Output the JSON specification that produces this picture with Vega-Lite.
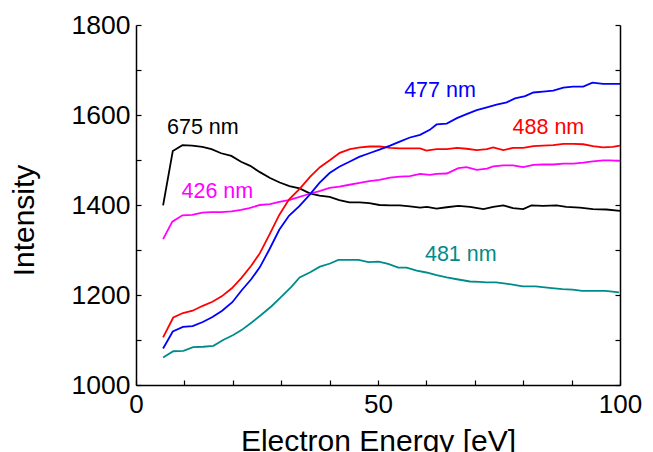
{
  "$schema": "https://vega.github.io/schema/vega-lite/v6.json",
  "width": 484,
  "height": 360,
  "autosize": "none",
  "padding": {"left": 136, "top": 25, "right": 33, "bottom": 67},
  "background": "white",
  "config": {
    "view": {"stroke": null},
    "font": "Liberation Sans",
    "axis": {"grid": false, "domainColor": "black", "tickColor": "black", "domainWidth": 1.5, "tickWidth": 1.2, "labelColor": "black", "titleColor": "black", "labelFont": "Liberation Sans", "titleFont": "Liberation Sans", "titleFontWeight": "normal"}
  },
  "datasets": {
    "curves": [
      {"x": 5.6, "v": 1399, "s": "675 nm"}, {"x": 7.6, "v": 1520, "s": "675 nm"}, {"x": 9.6, "v": 1533, "s": "675 nm"}, {"x": 11.6, "v": 1532, "s": "675 nm"}, {"x": 13.7, "v": 1529, "s": "675 nm"}, {"x": 15.6, "v": 1524, "s": "675 nm"}, {"x": 17.6, "v": 1515, "s": "675 nm"}, {"x": 19.7, "v": 1509, "s": "675 nm"}, {"x": 21.7, "v": 1496, "s": "675 nm"}, {"x": 23.6, "v": 1487, "s": "675 nm"}, {"x": 25.6, "v": 1473, "s": "675 nm"}, {"x": 27.7, "v": 1460, "s": "675 nm"}, {"x": 29.7, "v": 1450, "s": "675 nm"}, {"x": 31.7, "v": 1442, "s": "675 nm"}, {"x": 33.8, "v": 1437, "s": "675 nm"}, {"x": 35.9, "v": 1426, "s": "675 nm"}, {"x": 37.9, "v": 1421, "s": "675 nm"}, {"x": 40.0, "v": 1418, "s": "675 nm"}, {"x": 42.0, "v": 1411, "s": "675 nm"}, {"x": 44.1, "v": 1406, "s": "675 nm"}, {"x": 46.2, "v": 1406, "s": "675 nm"}, {"x": 48.2, "v": 1404, "s": "675 nm"}, {"x": 50.3, "v": 1400, "s": "675 nm"}, {"x": 52.5, "v": 1399, "s": "675 nm"}, {"x": 54.5, "v": 1399, "s": "675 nm"}, {"x": 56.6, "v": 1397, "s": "675 nm"}, {"x": 58.7, "v": 1394, "s": "675 nm"}, {"x": 60.1, "v": 1396, "s": "675 nm"}, {"x": 62.1, "v": 1392, "s": "675 nm"}, {"x": 64.2, "v": 1395, "s": "675 nm"}, {"x": 66.6, "v": 1398, "s": "675 nm"}, {"x": 69.0, "v": 1396, "s": "675 nm"}, {"x": 71.8, "v": 1391, "s": "675 nm"}, {"x": 73.8, "v": 1396, "s": "675 nm"}, {"x": 75.9, "v": 1399, "s": "675 nm"}, {"x": 77.9, "v": 1393, "s": "675 nm"}, {"x": 80.0, "v": 1391, "s": "675 nm"}, {"x": 81.7, "v": 1399, "s": "675 nm"}, {"x": 84.1, "v": 1398, "s": "675 nm"}, {"x": 86.9, "v": 1399, "s": "675 nm"}, {"x": 88.9, "v": 1396, "s": "675 nm"}, {"x": 91.7, "v": 1394, "s": "675 nm"}, {"x": 94.4, "v": 1391, "s": "675 nm"}, {"x": 97.2, "v": 1390, "s": "675 nm"}, {"x": 100.0, "v": 1387, "s": "675 nm"},

      {"x": 5.6, "v": 1324, "s": "426 nm"}, {"x": 7.5, "v": 1363, "s": "426 nm"}, {"x": 9.6, "v": 1377, "s": "426 nm"}, {"x": 11.6, "v": 1378, "s": "426 nm"}, {"x": 13.7, "v": 1383, "s": "426 nm"}, {"x": 15.5, "v": 1384, "s": "426 nm"}, {"x": 17.6, "v": 1384, "s": "426 nm"}, {"x": 19.7, "v": 1386, "s": "426 nm"}, {"x": 21.7, "v": 1389, "s": "426 nm"}, {"x": 23.4, "v": 1393, "s": "426 nm"}, {"x": 25.6, "v": 1400, "s": "426 nm"}, {"x": 27.7, "v": 1402, "s": "426 nm"}, {"x": 29.6, "v": 1407, "s": "426 nm"}, {"x": 31.6, "v": 1411, "s": "426 nm"}, {"x": 33.8, "v": 1418, "s": "426 nm"}, {"x": 35.9, "v": 1425, "s": "426 nm"}, {"x": 37.9, "v": 1431, "s": "426 nm"}, {"x": 40.0, "v": 1438, "s": "426 nm"}, {"x": 42.0, "v": 1441, "s": "426 nm"}, {"x": 44.1, "v": 1445, "s": "426 nm"}, {"x": 46.2, "v": 1449, "s": "426 nm"}, {"x": 48.2, "v": 1453, "s": "426 nm"}, {"x": 50.3, "v": 1456, "s": "426 nm"}, {"x": 52.5, "v": 1461, "s": "426 nm"}, {"x": 54.5, "v": 1463, "s": "426 nm"}, {"x": 56.6, "v": 1464, "s": "426 nm"}, {"x": 58.7, "v": 1469, "s": "426 nm"}, {"x": 60.7, "v": 1467, "s": "426 nm"}, {"x": 62.1, "v": 1469, "s": "426 nm"}, {"x": 64.2, "v": 1470, "s": "426 nm"}, {"x": 66.6, "v": 1482, "s": "426 nm"}, {"x": 68.3, "v": 1484, "s": "426 nm"}, {"x": 70.4, "v": 1478, "s": "426 nm"}, {"x": 72.5, "v": 1481, "s": "426 nm"}, {"x": 73.8, "v": 1486, "s": "426 nm"}, {"x": 75.9, "v": 1488, "s": "426 nm"}, {"x": 77.9, "v": 1488, "s": "426 nm"}, {"x": 80.0, "v": 1484, "s": "426 nm"}, {"x": 82.1, "v": 1489, "s": "426 nm"}, {"x": 84.1, "v": 1490, "s": "426 nm"}, {"x": 86.2, "v": 1490, "s": "426 nm"}, {"x": 88.3, "v": 1492, "s": "426 nm"}, {"x": 90.4, "v": 1492, "s": "426 nm"}, {"x": 92.4, "v": 1494, "s": "426 nm"}, {"x": 94.4, "v": 1497, "s": "426 nm"}, {"x": 96.5, "v": 1499, "s": "426 nm"}, {"x": 98.0, "v": 1499, "s": "426 nm"}, {"x": 100.0, "v": 1498, "s": "426 nm"},

      {"x": 5.6, "v": 1106, "s": "488 nm"}, {"x": 7.7, "v": 1150, "s": "488 nm"}, {"x": 9.7, "v": 1160, "s": "488 nm"}, {"x": 11.7, "v": 1165, "s": "488 nm"}, {"x": 13.8, "v": 1176, "s": "488 nm"}, {"x": 15.8, "v": 1185, "s": "488 nm"}, {"x": 17.7, "v": 1197, "s": "488 nm"}, {"x": 19.8, "v": 1215, "s": "488 nm"}, {"x": 21.8, "v": 1238, "s": "488 nm"}, {"x": 23.8, "v": 1265, "s": "488 nm"}, {"x": 25.6, "v": 1293, "s": "488 nm"}, {"x": 27.7, "v": 1337, "s": "488 nm"}, {"x": 29.6, "v": 1378, "s": "488 nm"}, {"x": 31.6, "v": 1412, "s": "488 nm"}, {"x": 33.9, "v": 1437, "s": "488 nm"}, {"x": 36.0, "v": 1463, "s": "488 nm"}, {"x": 38.0, "v": 1484, "s": "488 nm"}, {"x": 40.1, "v": 1500, "s": "488 nm"}, {"x": 42.1, "v": 1516, "s": "488 nm"}, {"x": 44.2, "v": 1524, "s": "488 nm"}, {"x": 46.3, "v": 1528, "s": "488 nm"}, {"x": 48.3, "v": 1530, "s": "488 nm"}, {"x": 50.4, "v": 1530, "s": "488 nm"}, {"x": 52.5, "v": 1527, "s": "488 nm"}, {"x": 54.5, "v": 1526, "s": "488 nm"}, {"x": 56.6, "v": 1526, "s": "488 nm"}, {"x": 58.7, "v": 1526, "s": "488 nm"}, {"x": 60.0, "v": 1521, "s": "488 nm"}, {"x": 62.1, "v": 1524, "s": "488 nm"}, {"x": 64.2, "v": 1524, "s": "488 nm"}, {"x": 66.3, "v": 1527, "s": "488 nm"}, {"x": 68.3, "v": 1525, "s": "488 nm"}, {"x": 70.4, "v": 1522, "s": "488 nm"}, {"x": 72.5, "v": 1524, "s": "488 nm"}, {"x": 73.8, "v": 1528, "s": "488 nm"}, {"x": 75.9, "v": 1522, "s": "488 nm"}, {"x": 77.9, "v": 1527, "s": "488 nm"}, {"x": 80.0, "v": 1527, "s": "488 nm"}, {"x": 82.1, "v": 1531, "s": "488 nm"}, {"x": 84.1, "v": 1532, "s": "488 nm"}, {"x": 86.2, "v": 1533, "s": "488 nm"}, {"x": 88.3, "v": 1536, "s": "488 nm"}, {"x": 90.4, "v": 1536, "s": "488 nm"}, {"x": 92.4, "v": 1535, "s": "488 nm"}, {"x": 94.4, "v": 1531, "s": "488 nm"}, {"x": 96.5, "v": 1528, "s": "488 nm"}, {"x": 98.5, "v": 1529, "s": "488 nm"}, {"x": 100.0, "v": 1532, "s": "488 nm"},

      {"x": 5.6, "v": 1081, "s": "477 nm"}, {"x": 7.6, "v": 1119, "s": "477 nm"}, {"x": 9.7, "v": 1129, "s": "477 nm"}, {"x": 11.7, "v": 1131, "s": "477 nm"}, {"x": 13.8, "v": 1140, "s": "477 nm"}, {"x": 15.8, "v": 1151, "s": "477 nm"}, {"x": 17.8, "v": 1165, "s": "477 nm"}, {"x": 19.9, "v": 1184, "s": "477 nm"}, {"x": 21.8, "v": 1210, "s": "477 nm"}, {"x": 23.8, "v": 1235, "s": "477 nm"}, {"x": 25.6, "v": 1262, "s": "477 nm"}, {"x": 27.5, "v": 1300, "s": "477 nm"}, {"x": 29.6, "v": 1345, "s": "477 nm"}, {"x": 31.6, "v": 1376, "s": "477 nm"}, {"x": 33.8, "v": 1398, "s": "477 nm"}, {"x": 35.9, "v": 1423, "s": "477 nm"}, {"x": 37.9, "v": 1449, "s": "477 nm"}, {"x": 40.0, "v": 1471, "s": "477 nm"}, {"x": 42.0, "v": 1485, "s": "477 nm"}, {"x": 44.1, "v": 1496, "s": "477 nm"}, {"x": 46.1, "v": 1507, "s": "477 nm"}, {"x": 48.2, "v": 1515, "s": "477 nm"}, {"x": 50.3, "v": 1523, "s": "477 nm"}, {"x": 52.5, "v": 1532, "s": "477 nm"}, {"x": 54.5, "v": 1541, "s": "477 nm"}, {"x": 56.6, "v": 1550, "s": "477 nm"}, {"x": 58.7, "v": 1556, "s": "477 nm"}, {"x": 60.7, "v": 1567, "s": "477 nm"}, {"x": 62.1, "v": 1579, "s": "477 nm"}, {"x": 64.2, "v": 1581, "s": "477 nm"}, {"x": 66.3, "v": 1593, "s": "477 nm"}, {"x": 68.3, "v": 1602, "s": "477 nm"}, {"x": 70.4, "v": 1611, "s": "477 nm"}, {"x": 72.5, "v": 1617, "s": "477 nm"}, {"x": 74.5, "v": 1623, "s": "477 nm"}, {"x": 76.6, "v": 1628, "s": "477 nm"}, {"x": 78.3, "v": 1637, "s": "477 nm"}, {"x": 80.4, "v": 1642, "s": "477 nm"}, {"x": 82.1, "v": 1650, "s": "477 nm"}, {"x": 84.1, "v": 1652, "s": "477 nm"}, {"x": 86.2, "v": 1654, "s": "477 nm"}, {"x": 88.3, "v": 1661, "s": "477 nm"}, {"x": 90.3, "v": 1663, "s": "477 nm"}, {"x": 92.4, "v": 1663, "s": "477 nm"}, {"x": 94.3, "v": 1672, "s": "477 nm"}, {"x": 96.5, "v": 1669, "s": "477 nm"}, {"x": 100.0, "v": 1669, "s": "477 nm"},

      {"x": 5.6, "v": 1061, "s": "481 nm"}, {"x": 7.7, "v": 1075, "s": "481 nm"}, {"x": 9.8, "v": 1076, "s": "481 nm"}, {"x": 11.8, "v": 1084, "s": "481 nm"}, {"x": 13.9, "v": 1085, "s": "481 nm"}, {"x": 16.0, "v": 1087, "s": "481 nm"}, {"x": 18.0, "v": 1100, "s": "481 nm"}, {"x": 20.1, "v": 1111, "s": "481 nm"}, {"x": 21.8, "v": 1122, "s": "481 nm"}, {"x": 23.9, "v": 1139, "s": "481 nm"}, {"x": 25.9, "v": 1156, "s": "481 nm"}, {"x": 28.0, "v": 1175, "s": "481 nm"}, {"x": 30.0, "v": 1196, "s": "481 nm"}, {"x": 32.1, "v": 1218, "s": "481 nm"}, {"x": 33.8, "v": 1239, "s": "481 nm"}, {"x": 35.9, "v": 1250, "s": "481 nm"}, {"x": 38.0, "v": 1263, "s": "481 nm"}, {"x": 40.1, "v": 1270, "s": "481 nm"}, {"x": 41.8, "v": 1278, "s": "481 nm"}, {"x": 43.9, "v": 1278, "s": "481 nm"}, {"x": 46.0, "v": 1278, "s": "481 nm"}, {"x": 48.0, "v": 1273, "s": "481 nm"}, {"x": 50.1, "v": 1274, "s": "481 nm"}, {"x": 52.1, "v": 1269, "s": "481 nm"}, {"x": 54.2, "v": 1261, "s": "481 nm"}, {"x": 55.9, "v": 1261, "s": "481 nm"}, {"x": 58.0, "v": 1254, "s": "481 nm"}, {"x": 60.0, "v": 1250, "s": "481 nm"}, {"x": 62.1, "v": 1244, "s": "481 nm"}, {"x": 64.2, "v": 1239, "s": "481 nm"}, {"x": 66.3, "v": 1235, "s": "481 nm"}, {"x": 69.0, "v": 1230, "s": "481 nm"}, {"x": 71.0, "v": 1229, "s": "481 nm"}, {"x": 72.4, "v": 1228, "s": "481 nm"}, {"x": 74.4, "v": 1228, "s": "481 nm"}, {"x": 77.2, "v": 1224, "s": "481 nm"}, {"x": 79.9, "v": 1219, "s": "481 nm"}, {"x": 82.6, "v": 1219, "s": "481 nm"}, {"x": 85.4, "v": 1216, "s": "481 nm"}, {"x": 88.1, "v": 1213, "s": "481 nm"}, {"x": 90.2, "v": 1212, "s": "481 nm"}, {"x": 92.2, "v": 1209, "s": "481 nm"}, {"x": 94.3, "v": 1209, "s": "481 nm"}, {"x": 97.0, "v": 1209, "s": "481 nm"}, {"x": 99.8, "v": 1206, "s": "481 nm"}
    ],
    "labels": [
      {"x": 6.4, "v": 1571, "s": "675 nm"},
      {"x": 9.4, "v": 1430, "s": "426 nm"},
      {"x": 55.4, "v": 1654, "s": "477 nm"},
      {"x": 77.8, "v": 1571, "s": "488 nm"},
      {"x": 59.7, "v": 1290, "s": "481 nm"}
    ]
  },
  "layer": [
    {
      "data": {"name": "curves"},
      "mark": {"type": "line", "strokeWidth": 1.8},
      "encoding": {
        "x": {
          "field": "x", "type": "quantitative",
          "scale": {"domain": [0, 100], "nice": false, "zero": false},
          "axis": {
            "orient": "bottom",
            "values": [0, 10, 20, 30, 40, 50, 60, 70, 80, 90, 100],
            "labelExpr": "datum.value % 50 === 0 ? datum.label : ''",
            "tickSize": -5,
            "labelPadding": 11,
            "labelFontSize": 26,
            "labelFlush": false,
            "labelOverlap": false,
            "title": "Electron Energy [eV]",
            "titleFontSize": 30,
            "titleBaseline": "alphabetic",
            "titleY": 65,
            "titleAnchor": "middle"
          }
        },
        "y": {
          "field": "v", "type": "quantitative",
          "scale": {"domain": [1000, 1800], "nice": false, "zero": false},
          "axis": {
            "orient": "left",
            "values": [1000, 1100, 1200, 1300, 1400, 1500, 1600, 1700, 1800],
            "labelExpr": "datum.value % 200 === 0 ? datum.label : ''",
            "format": "d",
            "tickSize": -5,
            "labelPadding": 11,
            "labelFontSize": 26.5,
            "labelFlush": false,
            "labelOverlap": false,
            "labelBaseline": "middle",
            "title": "Intensity",
            "titleFontSize": 30,
            "titleAngle": -90,
            "titleBaseline": "alphabetic",
            "titleAlign": "center",
            "titleX": -103,
            "titleY": 195
          }
        },
        "color": {
          "field": "s", "type": "nominal",
          "scale": {"domain": ["675 nm", "426 nm", "477 nm", "488 nm", "481 nm"], "range": ["#000000", "#ff00ff", "#0000ff", "#ff0000", "#008b8b"]},
          "legend": null
        }
      }
    },
    {
      "data": {"name": "labels"},
      "mark": {"type": "text", "align": "left", "baseline": "middle", "fontSize": 21.5, "font": "Liberation Sans"},
      "encoding": {
        "x": {"field": "x", "type": "quantitative"},
        "y": {
          "field": "v", "type": "quantitative",
          "axis": {
            "orient": "right",
            "values": [1000, 1100, 1200, 1300, 1400, 1500, 1600, 1700, 1800],
            "labels": false,
            "tickSize": -5,
            "title": null
          }
        },
        "text": {"field": "s"},
        "color": {"field": "s", "type": "nominal", "legend": null}
      }
    }
  ],
  "resolve": {"axis": {"y": "independent"}}
}
